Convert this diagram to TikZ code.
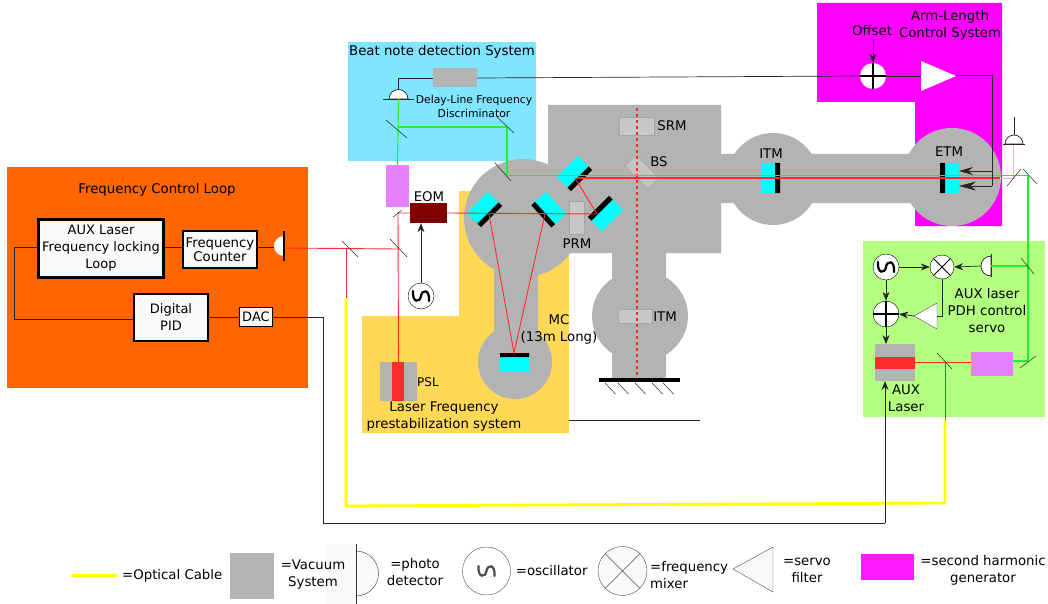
\documentclass[tikz,border=0pt]{standalone}
\usepackage{fontspec}
\setmainfont{DejaVu Sans}
\usetikzlibrary{arrows.meta,positioning,calc}
\definecolor{vacgrey}{HTML}{B3B3B3}
\definecolor{orangebg}{HTML}{FF6600}
\definecolor{bluebg}{HTML}{80E5FF}
\definecolor{yellowbg}{HTML}{FFD955}
\definecolor{greenbg}{HTML}{B3FF80}
\definecolor{magentabg}{HTML}{FF00FF}
\definecolor{legendmag}{HTML}{FF1AFF}
\definecolor{mirrorcyan}{HTML}{00FFFF}
\definecolor{shgpink}{HTML}{E580FF}
\definecolor{laserred}{HTML}{FF2A2A}
\definecolor{beamred}{HTML}{FF2A2A}
\definecolor{palered}{HTML}{FFB0B0}
\definecolor{beamgreen}{HTML}{20F030}
\definecolor{cableyellow}{HTML}{FFFF00}
\definecolor{eomred}{HTML}{800000}
\definecolor{lightbox}{HTML}{C8C8C8}
\definecolor{paper}{HTML}{FBF8FB}
\newcommand{\mirror}[3]{% position, angle
  \begin{scope}[shift={(#1,#2)},rotate=#3]
    \fill[mirrorcyan] (-15,0) rectangle (15,-15);
    \fill[black] (-15,0) rectangle (15,5);
  \end{scope}}
\begin{document}
\begin{tikzpicture}[x=1pt,y=-1pt,>={Stealth[length=9pt,width=7pt]},font=\fontsize{13.3}{13.3}\selectfont]
\useasboundingbox (0,0) rectangle (1048,604);
\tikzset{%
  label/.style    = {inner sep=0pt, align=center},
  small/.style    = {label, font=\fontsize{10.8}{14}\selectfont},
  twoline/.style  = {label, font=\fontsize{13.3}{17}\selectfont},
  block/.style    = {draw, fill=white!98!black, inner sep=0pt, align=center, font=\fontsize{13}{17}\selectfont},
  osc/.style      = {draw, circle, fill=white, minimum size=26pt, inner sep=0pt, path picture={\draw[shift={(path picture bounding box.center)},scale=#1,line width=2.2pt,line cap=round] (-8,-5) .. controls (-9,7) and (-1,7) .. (0,0) .. controls (1,-7) and (9,-7) .. (8,5);}},
  sumdot/.style   = {draw, circle, fill=white, minimum size=26pt, inner sep=0pt, path picture={\draw[line width=1.4pt] (path picture bounding box.north) -- (path picture bounding box.south) (path picture bounding box.east) -- (path picture bounding box.west);}},
  mixer/.style    = {draw, circle, fill=white, minimum size=24pt, inner sep=0pt, path picture={\draw[line width=1pt] (path picture bounding box.north east) -- (path picture bounding box.south west) (path picture bounding box.north west) -- (path picture bounding box.south east);}},
  tick/.style     = {line width=0.5pt, black!85},
  redbeam/.style  = {beamred, line width=0.9pt},
  armred/.style   = {beamred, line width=1.5pt},
  greenbeam/.style= {beamgreen, line width=1.1pt},
  wire/.style     = {black!85, line width=0.7pt},
  greybox/.style  = {draw=black!35, fill=lightbox, line width=0.8pt, inner sep=0pt}
}
% Backgrounds
\fill[orangebg] (7,167) rectangle (308,388);
\fill[bluebg] (348,42) rectangle (536,161);
\fill[magentabg] (817,3) -- (1002,3) -- (1002,226) -- (915,226) -- (915,102) -- (817,102) -- cycle;
\fill[yellowbg] (459,191) -- (500,191) -- (569,240) -- (569,433) -- (362,433) -- (362,316) -- (459,316) -- cycle;
\fill[greenbg] (863,241) rectangle (1045,417);
% Vacuum system
\fill[vacgrey] (548,105) rectangle (721,253) (720,154) rectangle (950,203)
  (612,253) rectangle (666,380) (494,260) rectangle (538,340);
\fill[vacgrey] (523,218) circle (59) (515,362) circle (37) (640,316) ellipse (48 and 46)
  (773,179) circle (46) (952,177) circle (49);
% Mirrors
\mirror{488}{213}{45}
\mirror{545}{213}{-48}
\mirror{602}{210}{225}
\mirror{578}{177}{45}
\fill[mirrorcyan] (761,163) rectangle (775,193) (945,163) rectangle (959,193) (500,357) rectangle (529,372);
\fill[black] (775,163) rectangle (780,193) (940,163) rectangle (945,193) (500,353) rectangle (529,357);
\node[greybox, minimum width=35pt, minimum height=18pt] (SRM) at (636.5,126) {};
\node[greybox, minimum width=15pt, minimum height=33pt] (PRM) at (576.5,217.5) {};
\node[greybox, minimum width=34pt, minimum height=14pt] (ITMb) at (635,316) {};
\node[greybox, minimum width=33pt, minimum height=16pt, rotate=-45, fill opacity=0.8] (BS) at (642,172) {};
\draw[beamred, line width=1.1pt, dashed] (637,108) -- (637,378);
\fill[black] (599,378) rectangle (680,382);
\foreach \xa in {605,618,635,652,663}
  \draw[tick] (\xa,383) -- ++(10.5,11);
% Sources and modulators
\node[fill=shgpink, minimum width=23pt, minimum height=42pt, inner sep=0pt] (SHGa) at (397.5,186) {};
\node[fill=eomred, minimum width=37pt, minimum height=20pt, inner sep=0pt] (EOM) at (428.5,213) {};
\node[fill=vacgrey, minimum width=37pt, minimum height=39pt, inner sep=0pt] (PSL) at (398.5,381.5) {};
\fill[laserred] (392,362) rectangle (404,401);
\node[fill=vacgrey, minimum width=40pt, minimum height=37pt, inner sep=0pt] (AUXLaser) at (895,362.5) {};
\fill[laserred] (875,357) rectangle (915,369);
\node[fill=shgpink, minimum width=42pt, minimum height=24pt, inner sep=0pt] (SHGb) at (992,364) {};
\node[fill=vacgrey, minimum width=44pt, minimum height=19pt, inner sep=0pt] (DelayLine) at (455,78) {};
% Frequency control loop
\node[block, line width=3pt, minimum width=125pt, minimum height=58pt] (AUXLoop) at (101,248.5) {AUX Laser\\Frequency locking\\Loop};
\node[block, line width=1.8pt, minimum width=74pt, minimum height=37pt, font=\fontsize{13.3}{10.5}\selectfont] (Counter) at (220,249.5) {Frequency\\Counter};
\node[block, line width=2.2pt, minimum width=74pt, minimum height=47pt] (PID) at (171,317.5) {Digital\\PID};
\node[block, line width=0.9pt, minimum width=33pt, minimum height=19pt] (DAC) at (256,317) {DAC};
% Photo detectors
\fill[white] (284,236) arc (270:90:10) -- cycle;
\draw[line width=1.2pt] (284,231) -- (284,261);
\coordinate (PDa) at (274,247.5);
\coordinate (PDaout) at (284,248);
\draw[wire, fill=white] (408,99) arc (360:180:9.5) -- cycle;
\draw[wire, line width=0.9pt] (383,99) -- (414,99);
\coordinate (PDb) at (398.5,89.5);
\coordinate (PDbin) at (398.5,99);
\draw[wire, fill=white] (1023,144) arc (360:180:9) -- cycle;
\draw[wire] (1003,144) -- (1025,144);
\coordinate (PDc) at (1014,135);
\draw[wire, fill=white] (991,256) arc (270:90:10) -- cycle;
\draw[black!80, line width=1pt] (991,254) -- (991,277);
\coordinate (PDd) at (981,266);
\coordinate (PDdin) at (991,266);
% Optical beams
\coordinate (TapA) at (346,248);
\coordinate (TapB) at (945,362);
\coordinate (SHGbin) at (1013,361);
\draw[redbeam] (PDaout) -- (398,249);
\draw[redbeam] (398.5,362) -- (398,213) -- (EOM.west);
\draw[redbeam] (EOM.east) -- (597,214) -- (575,178);
\draw[palered, line width=0.8pt] (1000,178) -- (1013,178) -- (1013,145);
\draw[redbeam] (489,214) -- (514,353) -- (545,214);
\draw[redbeam] (AUXLaser.east) -- (SHGb.west|-AUXLaser.east);
\draw[redbeam] (TapB) -- (945,420);
\draw[redbeam] (TapA) -- (346,298);
\draw[cableyellow, line width=2.8pt] (945,420) -- (945,503) -- (346,506) -- (346,298);
\draw[greenbeam] (SHGa.north) -- (PDbin);
\draw[greenbeam] (398,127) -- (507,127) -- (507,175.5) -- (1028,175.5) -- (1028,361) -- (SHGbin);
\draw[greenbeam] (1028,266) -- (PDdin);
\draw[armred] (577,178) -- (1000,178);
% Beam splitters
\draw[tick] (342,241) -- (358,257);
\draw[tick] (390,239) -- (407,257);
\draw[tick] (393,217) -- (402,210);
\draw[tick] (386,120) -- (407,138);
\draw[tick] (497,117) -- (514,133);
\draw[tick] (495,163) -- (511,181);
\draw[tick] (1007,186) -- (1021,169);
\draw[tick] (1023,169) -- (1037,184);
\draw[tick] (1021,258) -- (1034,274);
\draw[tick] (1020,368) -- (1036,356);
\draw[tick] (937,353) -- (952,369);
% Control electronics
\node[osc=1] (OscA) at (421,296) {};
\node[osc=1] (OscB) at (886,267) {};
\node[mixer] (Mixer) at (942,267) {};
\node[sumdot] (SumB) at (886,314) {};
\node[sumdot, draw=none] (SumA) at (873,76) {};
\draw[fill=white, draw=black!70] (937,303) -- (937,329) -- (914,316) -- cycle;
\coordinate (ServoB) at (914,316);
\coordinate (ServoBin) at (937,316);
\fill[white] (921,61) -- (956,76) -- (921,91) -- cycle;
\coordinate (ServoA) at (956,75);
\coordinate (ServoAin) at (921,76);
\coordinate (Offset) at (873,40);
\coordinate (Junction) at (992,75);
\coordinate (LoopLine) at (0,247.5);
\coordinate (PIDLine) at (0,319);
\coordinate (AUXIn) at (885,381);
\coordinate (AUXTop) at (886,344);
\draw[wire] (AUXLoop.east|-LoopLine) -- (Counter.west|-LoopLine);
\draw[wire] (Counter.east|-LoopLine) -- (PDa);
\draw[wire] (AUXLoop.west|-LoopLine) -- (14,247.5) -- (14,319) -- (PID.west|-PIDLine);
\draw[wire] (PID.east|-DAC.west) -- (DAC.west);
\draw[wire] (DAC.east) -- (323,317) -- (323,523) -- (885,523);
\draw[wire,->] (885,523) -- (AUXIn);
\draw[wire] (PDb) -- (398.5,78) -- (DelayLine.west);
\draw[wire] (DelayLine.east) -- (SumA.west);
\draw[wire] (SumA.east) -- (ServoAin);
\draw[wire] (ServoA) -- (Junction) -- (992,186);
\draw[wire,-{Stealth[length=14pt,width=8pt]}] (992,171) -- (959,171);
\draw[wire,-{Stealth[length=17pt,width=9pt]}] (992,186) -- (959,186);
\draw[wire,->] (Offset) -- (SumA.north);
\draw[wire] (PDc) -- (1014,117);
\draw[wire,->] (OscA.north) -- (OscA.north|-EOM.south);
\draw[wire,->] (OscB.east) -- (Mixer.west);
\draw[wire,->] (PDd) -- (Mixer.east);
\draw[wire] (Mixer.south) -- (942,316) -- (ServoBin);
\draw[wire,->] (ServoB) -- (SumB.east);
\draw[wire,->] (OscB.south) -- (SumB.north);
\draw[wire,->] (SumB.south) -- (AUXTop);
\draw[wire] (569,420) -- (700,420);
% Labels
\node[label] (Freqloop) at (157,189.5) {Frequency Control Loop};
\node[label] (Beatlabel) at (442,51.5) {Beat note detection System};
\node[small] (Delaylabel) at (474,106) {Delay-Line Frequency\\Discriminator};
\node[twoline] (Armlabel) at (950,25) {Arm-Length\\Control System};
\node[label] (Offsetlabel) at (872,31) {Offset};
\node[label] (SRMlabel) at (672,126) {SRM};
\node[label] (BSlabel) at (659,162) {BS};
\node[label] (PRMlabel) at (577,244) {PRM};
\node[label] (ITMa) at (771,154) {ITM};
\node[label] (ETM) at (949,152) {ETM};
\node[label] (ITMblabel) at (665,317) {ITM};
\node[label] (EOMlabel) at (429,197) {EOM};
\node[twoline] (MClabel) at (559,329) {MC\\(13m Long)};
\node[label, font=\fontsize{12}{12}\selectfont] (PSLlabel) at (428,382) {PSL};
\node[twoline] (Stablabel) at (444,417) {Laser Frequency\\prestabilization system};
\node[twoline] (PDHlabel) at (987,311) {AUX laser\\PDH control\\servo};
\node[twoline] (AUXlabel) at (906,398) {AUX\\Laser};
% Legend
\coordinate (CableL) at (72,575.5);
\coordinate (CableR) at (117,575.5);
\draw[cableyellow, line width=2.8pt] (CableL) -- (CableR);
\node[label, right=5pt of CableR] (Cablelabel) {=Optical Cable};
\node[fill=vacgrey, minimum width=44pt, minimum height=46pt, inner sep=0pt] (Vacbox) at (252,576) {};
\fill[paper] (327,544) rectangle (356,604);
\draw[black!80, fill=paper] (356,551) arc (270:450:22.5);
\draw[black!80] (356,544) -- (356,604);
\node[twoline] (Vaclabel) at (313,575) {=Vacuum\\System};
\node[twoline] (Pdlabel) at (415,572.5) {=photo\\detector};
\node[osc=1.35, minimum size=48pt, draw=black!70] (Legosc) at (486.5,571) {};
\node[label, right=5pt of Legosc] (Osclabel) {=oscillator};
\node[mixer, minimum size=49pt, draw=black!70, fill=paper, path picture={\draw[black!70] (path picture bounding box.north east) -- (path picture bounding box.south west) (path picture bounding box.north west) -- (path picture bounding box.south east);}] (Legmix) at (622.5,571) {};
\node[twoline, align=left, anchor=west] (Mixlabel) at (650,575) {=frequency\\mixer};
\draw[black!70, fill=paper] (773,547) -- (773,592) -- (733,569) -- cycle;
\node[twoline] (Servolabel) at (807,570) {=servo\\filter};
\node[fill=legendmag, minimum width=53pt, minimum height=26pt, inner sep=0pt] (Legshg) at (887.5,567) {};
\node[twoline] (Shglabel) at (983,570.5) {=second harmonic\\generator};
\end{tikzpicture}
\end{document}
